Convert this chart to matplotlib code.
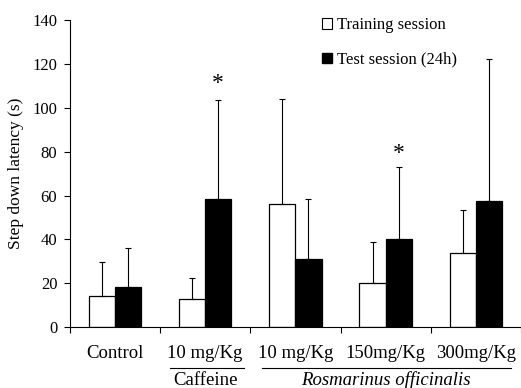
import numpy as np
import matplotlib
matplotlib.use("Agg")
import matplotlib.pyplot as plt
from matplotlib.patches import Patch
import matplotlib.transforms as mtransforms

plt.rcParams['font.family'] = ['Liberation Serif', 'DejaVu Serif']

# data
groups = ["Control", "10 mg/Kg", "10 mg/Kg", "150mg/Kg", "300mg/Kg"]
training = [14, 13, 56, 20, 34]
training_err = [15.5, 9.5, 48, 19, 19.5]
test = [18.5, 58.5, 31, 40, 57.5]
test_err = [17.5, 45, 27.5, 33, 65]
star_groups = [1, 3]
star_y = [111, 79]

x = np.arange(len(groups))
w = 0.29

fig = plt.figure(figsize=(5.21, 3.88), dpi=100)
ax = fig.add_axes([0.134, 0.157, 0.866, 0.791])

ax.bar(x - w / 2, training, w, color="white", edgecolor="black", linewidth=0.9)
ax.bar(x + w / 2, test, w, color="black", edgecolor="black", linewidth=0.9)
ax.errorbar(x - w / 2, training, yerr=[np.zeros(len(x)), training_err], fmt="none",
            ecolor="black", elinewidth=0.8, capsize=2.5, capthick=0.8)
ax.errorbar(x + w / 2, test, yerr=[np.zeros(len(x)), test_err], fmt="none",
            ecolor="black", elinewidth=0.8, capsize=2.5, capthick=0.8)

for g, sy in zip(star_groups, star_y):
    ax.text(g + w / 2, sy, "*", ha="center", va="center", fontsize=17)

ax.set_xlim(-0.5, 4.5)
ax.set_ylim(0, 140)
ax.set_yticks(np.arange(0, 141, 20))
ax.set_xticks(np.arange(-0.5, 4.6, 1))
ax.set_xticklabels([])
ax.tick_params(axis="x", direction="out", length=4, width=0.8)
ax.tick_params(axis="y", direction="out", length=4, width=0.8, labelsize=12, pad=5)
for s in ["top", "right"]:
    ax.spines[s].set_visible(False)
for s in ["left", "bottom"]:
    ax.spines[s].set_linewidth(0.8)

ax.set_ylabel("Step down latency (s)", fontsize=12.5, labelpad=6)

trans = mtransforms.blended_transform_factory(ax.transData, ax.transAxes)
for xi, lab in zip(x, groups):
    ax.text(xi, -0.085, lab, transform=trans, ha="center", va="center", fontsize=13.5)

ax.plot([0.61, 1.43], [-0.134, -0.134], transform=trans, color="black", lw=0.8, clip_on=False)
ax.plot([1.63, 4.39], [-0.134, -0.134], transform=trans, color="black", lw=0.8, clip_on=False)
ax.text(1.0, -0.173, "Caffeine", transform=trans, ha="center", va="center", fontsize=13.5)
ax.text(3.0, -0.173, "Rosmarinus officinalis", transform=trans, ha="center", va="center",
        fontsize=13.5, style="italic")

handles = [Patch(facecolor="white", edgecolor="black", linewidth=0.8, label="Training session"),
           Patch(facecolor="black", edgecolor="black", label="Test session (24h)")]
ax.legend(handles=handles, loc="upper left", bbox_to_anchor=(0.526, 1.058), frameon=False,
          fontsize=12, handlelength=0.6, handleheight=0.6, handletextpad=0.3, labelspacing=1.1)

plt.savefig("out.png", dpi=100)
